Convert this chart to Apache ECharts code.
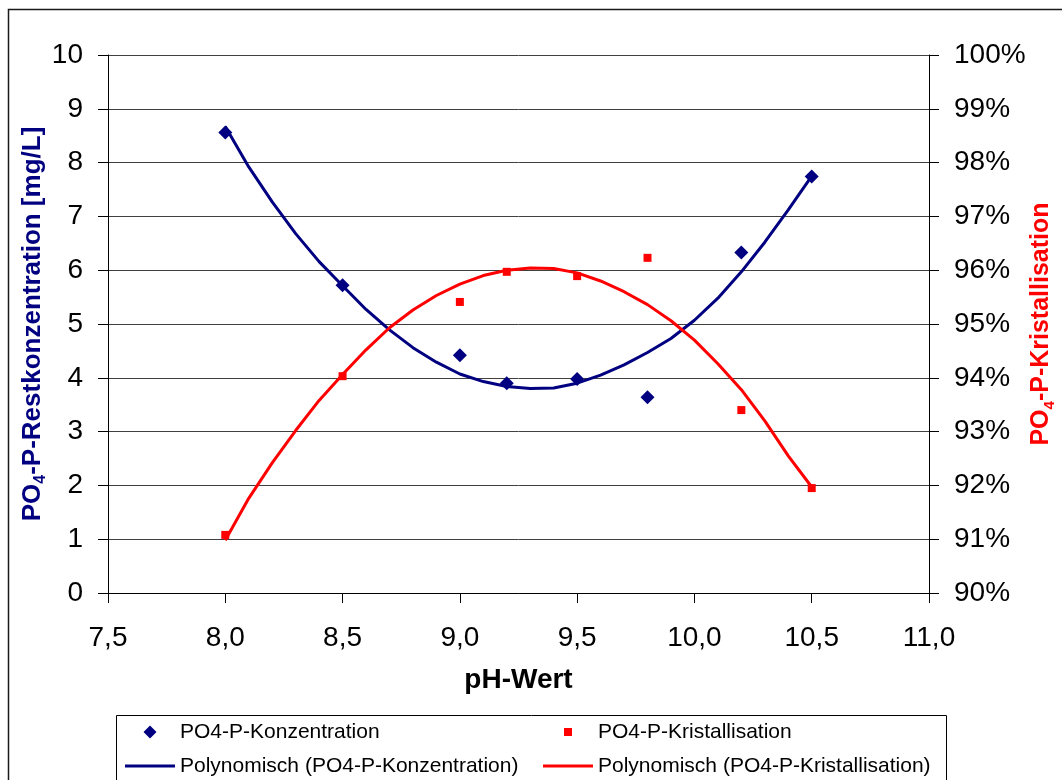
<!DOCTYPE html>
<html>
<head>
<meta charset="utf-8">
<script src="https://cdn.jsdelivr.net/npm/echarts@6/dist/echarts.min.js"></script>
<style>
  html, body { margin: 0; padding: 0; background: #fff; overflow: hidden; }
  #chart { width: 1062px; height: 780px; }
</style>
</head>
<body>
<div id="chart"></div>
<script>
// Measured samples: pH value, residual PO4-P concentration [mg/L], crystallisation [%]
const phValues = [8.0, 8.5, 9.0, 9.2, 9.5, 9.8, 10.2, 10.5];
const konzentration = [8.56, 5.72, 4.42, 3.90, 3.98, 3.64, 6.33, 7.74];
const kristallisation = [91.08, 94.03, 95.41, 95.97, 95.89, 96.23, 93.40, 91.95];

// Polynomial trend lines (sampled every 0.1 pH)
const trendPh = [8.0, 8.1, 8.2, 8.3, 8.4, 8.5, 8.6, 8.7, 8.8, 8.9, 9.0, 9.1, 9.2,
                 9.3, 9.4, 9.5, 9.6, 9.7, 9.8, 9.9, 10.0, 10.1, 10.2, 10.3, 10.4, 10.5];
const trendKonzentration = [8.67, 7.92, 7.27, 6.68, 6.16, 5.71, 5.27, 4.89, 4.56, 4.29, 4.07, 3.93, 3.84,
                            3.80, 3.81, 3.90, 4.05, 4.24, 4.47, 4.73, 5.07, 5.48, 5.97, 6.52, 7.12, 7.75];
const trendKristallisation = [90.98, 91.76, 92.42, 93.02, 93.58, 94.06, 94.52, 94.93, 95.26, 95.53, 95.74, 95.90, 96.00,
                              96.04, 96.03, 95.95, 95.80, 95.60, 95.36, 95.06, 94.70, 94.26, 93.78, 93.20, 92.55, 91.97];

const FONT = "'Liberation Sans', Arial, sans-serif";
const BLUE = '#000080';
const RED = '#ff0000';

const zip = (xs, ys) => xs.map((x, i) => [x, ys[i]]);

// Legend icons: 50px wide slots with the symbol centred (zero-area end points keep the width)
const ICON_DIAMOND = 'path://M0,6.5L0.01,6.5Z M25,0L31.5,6.5L25,13L18.5,6.5Z M49.99,6.5L50,6.5Z';
const ICON_SQUARE = 'path://M0,4L0.01,4Z M21,0H29V8H21Z M49.99,4L50,4Z';
const ICON_LINE = 'path://M0,0H50V3H0Z';

const chart = echarts.init(document.getElementById('chart'), null, { renderer: 'canvas' });

const legendBase = {
  orient: 'horizontal',
  padding: 0,
  itemWidth: 50,
  selectedMode: false,
  textStyle: { fontFamily: FONT, fontSize: 21, color: '#000', lineHeight: 22 }
};

chart.setOption({
  animation: false,
  backgroundColor: '#fff',
  textStyle: { fontFamily: FONT },
  grid: { left: 108, right: 133, top: 55, bottom: 187, containLabel: false, outerBoundsMode: 'none' },
  xAxis: {
    type: 'value',
    min: 7.5, max: 11, interval: 0.5,
    name: 'pH-Wert',
    nameLocation: 'middle',
    nameGap: 73,
    nameMoveOverlap: false,
    nameTextStyle: { fontFamily: FONT, fontSize: 28, fontWeight: 'bold', color: '#000' },
    axisLine: { show: true, onZero: false, lineStyle: { color: '#000', width: 1 } },
    axisTick: { show: true, inside: false, length: 10, lineStyle: { color: '#000' } },
    axisLabel: {
      margin: 31, fontFamily: FONT, fontSize: 28, color: '#000',
      formatter: v => v.toFixed(1).replace('.', ',')
    },
    splitLine: { show: false }
  },
  yAxis: [
    {
      type: 'value',
      position: 'left',
      min: 0, max: 10, interval: 1,
      name: '{a|PO}{s|4}{a|-P-Restkonzentration [mg/L]}',
      nameLocation: 'middle',
      nameRotate: 90,
      nameGap: 59,
      nameMoveOverlap: false,
      nameTextStyle: {
        rich: {
          a: { fontFamily: FONT, fontSize: 26, fontWeight: 'bold', color: BLUE, lineHeight: 26 },
          s: { fontFamily: FONT, fontSize: 16, fontWeight: 'bold', color: BLUE, lineHeight: 32, verticalAlign: 'bottom' }
        }
      },
      axisLine: { show: true, lineStyle: { color: '#000', width: 1 } },
      axisTick: { show: true, inside: false, length: 10, lineStyle: { color: '#000' } },
      axisLabel: { margin: 25, fontFamily: FONT, fontSize: 28, color: '#000' },
      splitLine: { show: true, lineStyle: { color: '#404040', width: 1 } }
    },
    {
      type: 'value',
      position: 'right',
      min: 90, max: 100, interval: 1,
      name: '{a|PO}{s|4}{a|-P-Kristallisation}',
      nameLocation: 'middle',
      nameRotate: 90,
      nameGap: 97,
      nameMoveOverlap: false,
      nameTextStyle: {
        rich: {
          a: { fontFamily: FONT, fontSize: 25, fontWeight: 'bold', color: RED, lineHeight: 25 },
          s: { fontFamily: FONT, fontSize: 15, fontWeight: 'bold', color: RED, lineHeight: 31, verticalAlign: 'bottom' }
        }
      },
      axisLine: { show: true, lineStyle: { color: '#000', width: 1 } },
      axisTick: { show: true, inside: false, length: 10, lineStyle: { color: '#000' } },
      axisLabel: { margin: 25, fontFamily: FONT, fontSize: 28, color: '#000', formatter: '{value}%' },
      splitLine: { show: false }
    }
  ],
  legend: [
    Object.assign({}, legendBase, {
      left: 125, top: 721, itemHeight: 13,
      data: [{ name: 'PO4-P-Konzentration', icon: ICON_DIAMOND }]
    }),
    Object.assign({}, legendBase, {
      left: 543, top: 721, itemHeight: 8,
      data: [{ name: 'PO4-P-Kristallisation', icon: ICON_SQUARE }]
    }),
    Object.assign({}, legendBase, {
      left: 125, top: 755, itemHeight: 3,
      data: [{ name: 'Polynomisch (PO4-P-Konzentration)', icon: ICON_LINE }]
    }),
    Object.assign({}, legendBase, {
      left: 543, top: 755, itemHeight: 3,
      data: [{ name: 'Polynomisch (PO4-P-Kristallisation)', icon: ICON_LINE }]
    })
  ],
  graphic: [
    {
      type: 'rect', z: 0, silent: true,
      shape: { x: 8.5, y: 9.5, width: 1100, height: 900 },
      style: { fill: 'none', stroke: '#1a1a1a', lineWidth: 1.5 }
    },
    {
      type: 'rect', z: 0, silent: true,
      shape: { x: 116.5, y: 715.5, width: 830, height: 100 },
      style: { fill: 'none', stroke: '#000', lineWidth: 1 }
    }
  ],
  series: [
    {
      name: 'PO4-P-Konzentration',
      type: 'scatter',
      yAxisIndex: 0,
      symbol: 'diamond',
      symbolSize: 14,
      itemStyle: { color: BLUE, opacity: 1 },
      data: zip(phValues, konzentration),
      z: 2
    },
    {
      name: 'PO4-P-Kristallisation',
      type: 'scatter',
      yAxisIndex: 1,
      symbol: 'rect',
      symbolSize: 8,
      itemStyle: { color: RED, opacity: 1 },
      data: zip(phValues, kristallisation),
      z: 2
    },
    {
      name: 'Polynomisch (PO4-P-Konzentration)',
      type: 'line',
      yAxisIndex: 0,
      showSymbol: false,
      symbol: 'none',
      smooth: false,
      lineStyle: { color: BLUE, width: 3 },
      itemStyle: { color: BLUE },
      data: zip(trendPh, trendKonzentration),
      z: 3
    },
    {
      name: 'Polynomisch (PO4-P-Kristallisation)',
      type: 'line',
      yAxisIndex: 1,
      showSymbol: false,
      symbol: 'none',
      smooth: false,
      lineStyle: { color: RED, width: 3 },
      itemStyle: { color: RED },
      data: zip(trendPh, trendKristallisation),
      z: 3
    }
  ]
});
</script>
</body>
</html>
